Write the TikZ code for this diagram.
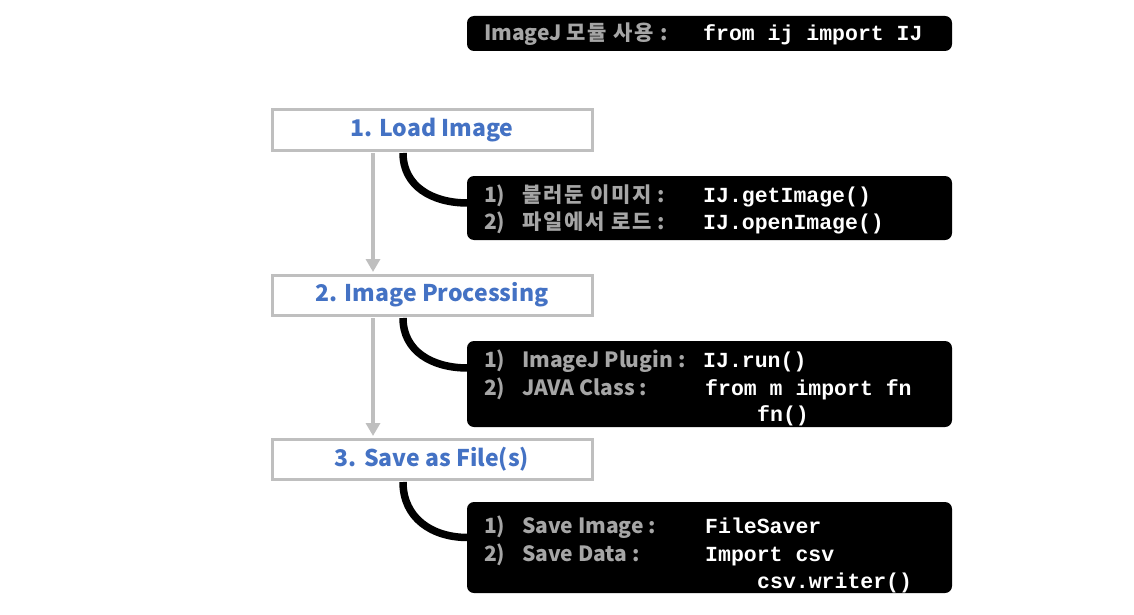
\documentclass[tikz,border=0pt]{standalone}
\usepackage{fontspec}
\setmainfont{Noto Sans CJK KR}
\newfontfamily\codefont{Liberation Mono}
\usetikzlibrary{arrows.meta,calc}
\definecolor{bord}{HTML}{BFBFBF}
\definecolor{ttl}{HTML}{4472C4}
\definecolor{lbl}{HTML}{A6A6A6}
\newcommand{\korsp}{\addfontfeature{LetterSpace=8}}
\begin{document}
\begin{tikzpicture}[x=1pt,y=-1pt,
  stepbox/.style={draw=bord, line width=3pt, fill=white, minimum width=320pt, minimum height=40pt, font=\fontsize{23}{26}\selectfont\bfseries, text=ttl, inner sep=0pt},
  infobox/.style={fill=black, rounded corners=7pt, minimum width=485pt, inner sep=0pt},
  lab/.style={anchor=base west, text=lbl, font=\fontsize{21}{24}\selectfont\bfseries, inner sep=0pt},
  kor/.style={lab, font=\fontsize{21}{24}\selectfont\bfseries\korsp},
  code/.style={anchor=base west, text=white, font=\fontsize{21.5}{24}\codefont\bfseries, inner sep=0pt},
  flow/.style={draw=bord, line width=4pt, -{Triangle[width=14pt,length=13pt]}},
  link/.style={draw=black, line width=7.5pt}
]
\useasboundingbox (0,0) rectangle (1134,615);

% top info box
\node[infobox, minimum height=35pt] (top) at (709.5,33.5) {};
\node[lab] (topl) at (484,41) {ImageJ {\korsp 모듈 사용 :}};
\node[code] (topc) at (703,41) {from ij import IJ};

% step boxes
\node[stepbox] (s1) at (432,130) {1. Load Image};
\node[stepbox] (s2) at (432,295) {2. Image Processing};
\node[stepbox] (s3) at (432,459) {3. Save as File(s)};

% flow arrows
\draw[flow] ($(s1.south)+(-59,1.5)$) -- ($(s2.north)+(-59,-1.5)$);
\draw[flow] ($(s2.south)+(-59,1.5)$) -- ($(s3.north)+(-59,-1.5)$);

% info boxes
\node[infobox, minimum height=64pt] (d1) at (709.5,208) {};
\node[infobox, minimum height=86pt] (d2) at (709.5,384) {};
\node[infobox, minimum height=91pt] (d3) at (709.5,547.5) {};

% links
\coordinate (a1) at ($(s1.south)+(-29,1.5)$);
\coordinate (e1) at ($(d1.west)+(1,-5)$);
\draw[link] (a1) .. controls ($(a1)+(0,33)$) and ($(e1)+(-36,0)$) .. (e1);
\coordinate (a2) at ($(s2.south)+(-29,1.5)$);
\coordinate (e2) at ($(d2.west)+(1,-16)$);
\draw[link] (a2) .. controls ($(a2)+(0,33)$) and ($(e2)+(-36,0)$) .. (e2);
\coordinate (a3) at ($(s3.south)+(-29,1.5)$);
\coordinate (e3) at ($(d3.west)+(1,-10)$);
\draw[link] (a3) .. controls ($(a3)+(0,36)$) and ($(e3)+(-36,0)$) .. (e3);

% box 1 text
\node[lab] (n11) at (484,202) {1)};
\node[kor] (l11) at (522,202) {불러둔 이미지 :};
\node[code] (c11) at (703,202) {IJ.getImage()};
\node[lab] (n12) at (484,229) {2)};
\node[kor] (l12) at (522,229) {파일에서 로드 :};
\node[code] (c12) at (703,229) {IJ.openImage()};

% box 2 text
\node[lab] (n21) at (484,367) {1)};
\node[lab] (l21) at (522,367) {ImageJ Plugin :};
\node[code] (c21) at (703,367) {IJ.run()};
\node[lab] (n22) at (484,395) {2)};
\node[lab] (l22) at (522,395) {JAVA Class :};
\node[code] (c22) at (705,395) {from m import fn};
\node[code] (c23) at (757,421) {fn()};

% box 3 text
\node[lab] (n31) at (484,533) {1)};
\node[lab] (l31) at (522,533) {Save Image :};
\node[code] (c31) at (705,533) {FileSaver};
\node[lab] (n32) at (484,561) {2)};
\node[lab] (l32) at (522,561) {Save Data :};
\node[code] (c32) at (705,561) {Import csv};
\node[code] (c33) at (757,588) {csv.writer()};
\end{tikzpicture}
\end{document}
